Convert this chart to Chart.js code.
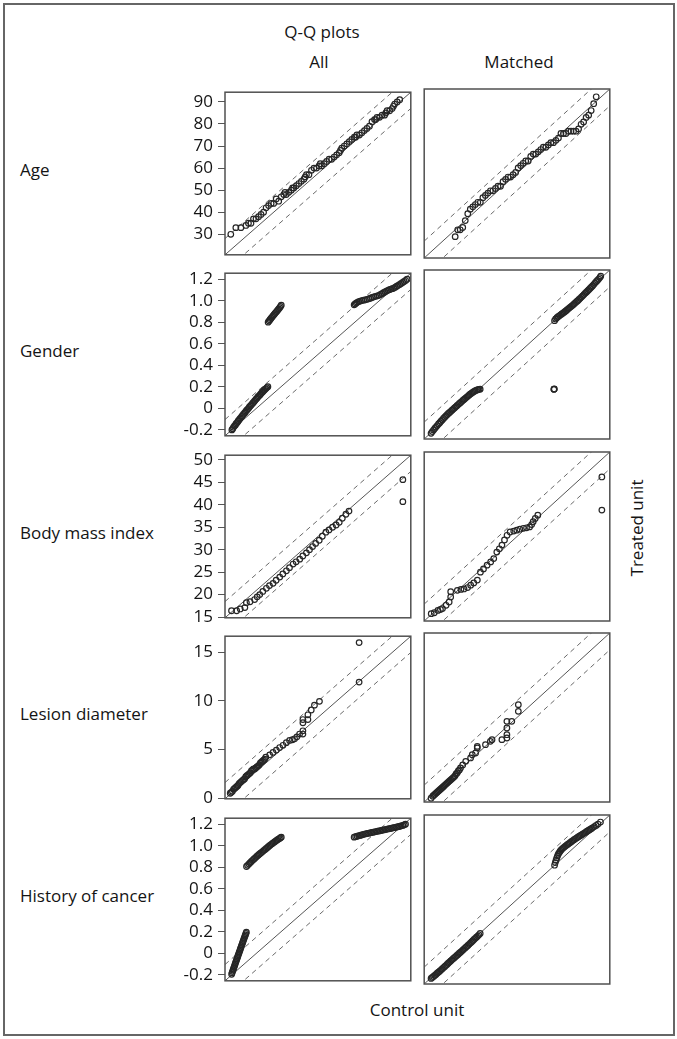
<!DOCTYPE html>
<html><head><meta charset="utf-8">
<script src="https://cdn.jsdelivr.net/npm/chart.js@4.4.1/dist/chart.umd.min.js"></script>
<style>
html,body{margin:0;padding:0;background:#fff;}
body{width:677px;height:1039px;position:relative;overflow:hidden;font-family:"Open Sans",sans-serif;color:#141414;}
#frame{position:absolute;left:3px;top:3px;width:668px;height:1029px;border:2px solid #666;}
.t{position:absolute;font-size:17px;line-height:20px;white-space:nowrap;transform:translate(-50%,-50%);}
.r{position:absolute;font-size:17px;line-height:20px;white-space:nowrap;transform:translate(0,-50%);}
canvas{position:absolute;}
</style></head><body>
<div id="frame"></div>
<div class="t" style="left:322px;top:32px">Q-Q plots</div>
<div class="t" style="left:319px;top:62px">All</div>
<div class="t" style="left:519px;top:62px">Matched</div>
<div class="t" style="left:417px;top:1010px">Control unit</div>
<div class="t" style="left:637px;top:528px;transform:translate(-50%,-50%) rotate(-90deg)">Treated unit</div>
<div id="labels"></div>
<script>
// ---------- data ----------
const rowNames = ['Age','Gender','Body mass index','Lesion diameter','History of cancer'];
const rowMin = [20.7, -0.256, 14.83, -0.07, -0.256];
const rowMax = [94.4, 1.256, 51.05, 16.65, 1.256];
const ageTicks = [30,40,50,60,70,80,90];
const binTicks = [-0.2,0,0.2,0.4,0.6,0.8,1.0,1.2];
const binTickLabels = ['-0.2','0','0.2','0.4','0.6','0.8','1.0','1.2'];
const bmiTicks = [15,20,25,30,35,40,45,50];
const lesionTicks = [0,5,10,15];

const ageAllControl = [23,25,27,29,30,31,32,33,34,35,36,37,38,39,40,41,42,43,44,44.5,45,46,47,47.5,48,49,50,51,52,52.5,53,54,55,56,57,58,58.5,59,60,61,62,63,64,65,66,66.5,67,68,69,70,71,72,72.5,73,74,75,76,77,78,79,80,80.5,81,82,83,84,84.5,85,86,87,87.5,88,89,90];
const ageAllTreated = [30,33,33,34,35,35,37,37,38,39,40,42,43,44,44,46,45,47,48,49,48,49,50,51,51,52,53,54,55,56,57,57,59,60,60,61,62,61,62,63,64,64,65,66,67,68,69,70,71,72,73,74,74,75,75,76,77,78,79,81,82,82,83,83,84,84,85,86,86,87,88,89,90,91];
const ageMatchedControl = [33,34,35,36,37,38,39,40,41,42,43,44,45,46,47,48,49,50,51,52,53,54,55,56,57,58,59,60,61,62,63,64,65,66,67,68,69,70,71,72,73,74,75,76,77,78,79,80,81,82,83,84,85,86,87,88,89];
const ageMatchedTreated = [30,33,33,34,37,40,42,43,44,45,45,47,48,49,50,50,51,52,52,54,55,56,56,57,58,60,61,62,63,63,65,66,66,67,68,69,69,70,71,71,72,73,75,75,75,76,76,76,76,77,79,80,82,83,85,88,91];

const genderAllControl = [-0.200,-0.193,-0.187,-0.180,-0.172,-0.166,-0.158,-0.151,-0.145,-0.137,-0.130,-0.121,-0.114,-0.107,-0.098,-0.091,-0.083,-0.075,-0.066,-0.059,-0.050,-0.043,-0.034,-0.027,-0.018,-0.011,-0.002,0.006,0.013,0.022,0.030,0.037,0.046,0.053,0.061,0.069,0.077,0.085,0.093,
 0.095,0.103,0.110,0.118,0.126,0.133,0.141,0.149,0.157,0.165,0.173,0.181,0.189,0.196,0.202,
 0.795,0.803,0.812,0.821,0.832,0.845,0.858,0.872,0.886,0.900,0.914,0.928,0.942,0.956,0.970,0.984,0.997,1.010,1.022,1.034,1.046,1.058,1.070,1.082,1.094,1.106,1.118,1.130,1.142,1.154,1.166,1.178,1.190,1.202,1.214,1.226];
const genderAllTreated = [-0.201,-0.190,-0.177,-0.166,-0.157,-0.144,-0.135,-0.122,-0.113,-0.101,-0.091,-0.079,-0.069,-0.056,-0.046,-0.036,-0.022,-0.013,-0.003,0.010,0.021,0.030,0.043,0.052,0.064,0.074,0.086,0.095,0.107,0.116,0.126,0.137,0.147,0.155,0.166,0.175,0.183,0.192,0.201,
 0.801,0.812,0.824,0.835,0.846,0.857,0.868,0.879,0.890,0.901,0.912,0.924,0.935,0.947,0.958,
 0.962,0.970,0.978,0.985,0.992,0.997,1.001,1.005,1.008,1.013,1.018,1.023,1.030,1.036,1.041,1.046,1.050,1.058,1.066,1.075,1.082,1.090,1.097,1.103,1.108,1.112,1.118,1.126,1.135,1.143,1.152,1.161,1.170,1.179,1.189,1.200];
const genderMatchedControl = [-0.200,-0.190,-0.180,-0.170,-0.160,-0.150,-0.139,-0.129,-0.119,-0.109,-0.099,-0.089,-0.079,-0.069,-0.059,-0.049,-0.039,-0.029,-0.019,-0.009,0.001,0.011,0.021,0.031,0.041,0.051,0.061,0.071,0.081,0.091,0.101,0.111,0.121,0.131,0.141,0.151,0.161,0.171,0.181,0.191,0.200,
 0.800,0.802,0.804,
 0.806,0.815,0.825,0.835,0.845,0.855,0.865,0.875,0.885,0.895,0.905,0.915,0.925,0.935,0.945,0.955,0.965,0.975,0.985,0.995,1.005,1.015,1.025,1.035,1.045,1.055,1.065,1.075,1.085,1.095,1.105,1.115,1.125,1.135,1.145,1.155,1.165,1.175,1.182];
const genderMatchedTreated = [-0.205,-0.190,-0.176,-0.162,-0.149,-0.136,-0.122,-0.110,-0.097,-0.085,-0.072,-0.061,-0.050,-0.039,-0.028,-0.018,-0.008,0.002,0.012,0.022,0.032,0.042,0.052,0.062,0.071,0.081,0.091,0.100,0.110,0.119,0.128,0.138,0.147,0.155,0.163,0.170,0.176,0.181,0.185,0.188,0.190,
 0.188,0.190,0.192,
 0.803,0.818,0.829,0.838,0.846,0.855,0.863,0.871,0.879,0.888,0.897,0.906,0.915,0.924,0.933,0.942,0.952,0.962,0.972,0.982,0.992,1.003,1.014,1.025,1.036,1.047,1.058,1.069,1.080,1.091,1.102,1.113,1.126,1.139,1.151,1.162,1.175,1.188,1.200];

const bmiAllControl = [16.1,17.1,17.8,18.7,19.0,19.7,20.6,21.1,21.6,22.2,22.9,23.5,24.2,24.8,25.5,26.1,26.8,27.4,28.1,28.7,29.4,30.0,30.7,31.3,31.9,32.5,33.2,33.8,34.5,35.1,35.8,36.5,37.1,37.7,38.4,39.0,49.5,49.5];
const bmiAllTreated = [16.4,16.4,16.8,17.1,18.2,18.4,18.9,19.5,20.0,20.7,21.4,22.0,22.5,23.2,23.9,24.6,25.3,26.0,26.8,27.3,27.9,28.6,29.3,30.0,30.7,31.4,32.1,33.0,33.9,34.4,35.0,35.5,36.1,37.0,37.9,38.6,40.7,45.6];
const bmiMatchedControl = [16.2,16.8,17.5,18.0,18.4,19.1,19.7,20.0,20.0,21.3,22.0,22.6,23.3,23.9,24.5,25.2,25.8,26.4,27.1,27.8,28.4,29.0,29.5,30.0,30.5,31.0,31.6,32.3,32.9,33.5,34.2,34.8,35.4,35.8,36.1,36.5,37.0,49.5,49.5];
const bmiMatchedTreated = [16.4,16.6,17.1,17.3,17.5,18.2,18.9,20.0,21.1,21.4,21.6,21.7,22.0,22.5,23.0,23.6,25.3,26.0,26.8,27.5,28.2,29.6,30.3,31.1,32.2,33.2,33.9,34.1,34.3,34.5,34.7,34.8,35.0,35.5,36.1,36.8,37.5,38.6,45.7];

const lesionAllControl = [0.4,0.5,0.6,0.7,0.8,0.9,1.0,1.1,1.2,1.3,1.4,1.5,1.6,1.7,1.8,1.9,2.0,2.1,2.2,2.3,2.4,2.5,2.6,2.7,2.8,2.9,3.0,3.1,3.2,3.3,3.4,3.5,3.6,3.95,4.25,4.55,4.85,5.15,5.45,5.74,6.0,6.19,6.4,6.64,6.94,6.94,6.94,6.94,7.39,7.39,7.69,7.98,8.43,12.0,12.0];
const lesionAllTreated = [0.5,0.6,0.7,0.9,1.0,1.1,1.2,1.3,1.5,1.6,1.7,1.8,1.9,2.0,2.2,2.3,2.4,2.5,2.6,2.8,2.9,3.0,3.0,3.1,3.2,3.3,3.4,3.6,3.7,3.8,3.9,4.0,4.2,4.45,4.7,4.94,5.2,5.43,5.7,5.93,6.0,6.1,6.3,6.59,6.59,6.92,7.75,8.08,8.08,8.57,9.06,9.56,9.95,11.93,15.99];
const lesionMatchedControl = [0.55,0.7,0.8,0.9,1.0,1.1,1.2,1.3,1.4,1.5,1.6,1.7,1.8,1.9,2.0,2.1,2.2,2.3,2.4,2.5,2.6,2.7,2.8,2.9,3.0,3.1,3.2,3.4,3.67,4.11,4.26,4.56,4.71,4.71,5.45,5.89,6.04,6.93,7.38,7.38,7.38,7.38,7.82,8.41,8.41];
const lesionMatchedTreated = [0.3,0.5,0.6,0.7,0.8,0.9,1.0,1.1,1.2,1.3,1.4,1.5,1.6,1.7,1.8,1.9,2.0,2.1,2.2,2.3,2.4,2.5,2.7,2.8,3.0,3.1,3.3,3.6,3.95,4.29,4.61,4.78,5.28,5.43,5.6,5.93,6.1,6.1,6.26,6.59,7.25,7.91,7.91,8.9,9.56];

const cancerAllControl = [-0.202,-0.198,-0.194,-0.190,-0.186,-0.182,-0.178,-0.174,-0.170,-0.166,-0.162,-0.158,-0.154,-0.150,-0.146,-0.142,-0.138,-0.134,-0.130,-0.126,-0.122,-0.118,-0.114,-0.110,-0.106,-0.102,-0.098,-0.094,-0.090,-0.086,-0.082,
 -0.081,-0.072,-0.062,-0.053,-0.043,-0.034,-0.024,-0.015,-0.005,0.004,0.014,0.023,0.033,0.042,0.052,0.061,0.071,0.080,0.090,0.099,0.109,0.118,0.128,0.137,0.147,0.156,0.166,0.175,0.185,0.194,0.202,
 0.795,0.807,0.819,0.831,0.843,0.855,0.867,0.879,0.891,0.903,0.915,0.927,0.939,0.951,0.963,0.975,0.987,0.999,1.011,1.023,1.035,1.047,1.059,1.071,1.083,1.095,1.107,1.119,1.131,1.143,1.155,1.167,1.179,1.191,1.203,1.213];
const cancerAllTreated = [-0.195,-0.181,-0.168,-0.155,-0.141,-0.128,-0.115,-0.101,-0.088,-0.075,-0.062,-0.049,-0.036,-0.023,-0.010,0.003,0.016,0.029,0.042,0.055,0.068,0.081,0.094,0.107,0.120,0.133,0.146,0.159,0.171,0.184,0.196,
 0.807,0.818,0.829,0.840,0.851,0.862,0.872,0.882,0.892,0.902,0.912,0.921,0.930,0.939,0.948,0.957,0.966,0.975,0.984,0.993,1.002,1.011,1.019,1.027,1.035,1.043,1.051,1.059,1.066,1.073,1.080,
 1.080,1.084,1.088,1.092,1.096,1.100,1.104,1.108,1.111,1.114,1.117,1.120,1.123,1.126,1.129,1.132,1.135,1.138,1.141,1.144,1.147,1.150,1.153,1.156,1.159,1.162,1.165,1.168,1.171,1.174,1.177,1.181,1.185,1.189,1.194,1.200];
const cancerMatchedControl = [-0.200,-0.190,-0.180,-0.170,-0.160,-0.150,-0.140,-0.130,-0.120,-0.110,-0.100,-0.090,-0.080,-0.070,-0.060,-0.050,-0.040,-0.030,-0.020,-0.010,0.000,0.010,0.020,0.030,0.040,0.050,0.060,0.070,0.080,0.090,0.100,0.110,0.120,0.130,0.140,0.150,0.160,0.170,0.180,0.190,0.200,
 0.806,0.812,0.818,0.824,0.830,0.836,0.843,0.850,0.858,0.866,0.875,0.885,0.895,0.905,0.915,0.925,0.935,0.945,0.955,0.965,0.975,0.985,0.995,1.005,1.015,1.025,1.035,1.045,1.055,1.065,1.075,1.085,1.095,1.105,1.115,1.130,1.145,1.160,1.180];
const cancerMatchedTreated = [-0.206,-0.197,-0.189,-0.180,-0.170,-0.160,-0.150,-0.141,-0.131,-0.121,-0.111,-0.101,-0.091,-0.081,-0.070,-0.060,-0.050,-0.040,-0.030,-0.021,-0.011,-0.001,0.009,0.019,0.029,0.039,0.049,0.059,0.069,0.079,0.089,0.099,0.110,0.120,0.131,0.142,0.153,0.163,0.173,0.184,0.196,
 0.807,0.830,0.852,0.872,0.890,0.905,0.918,0.930,0.941,0.951,0.960,0.969,0.978,0.987,0.995,1.003,1.011,1.019,1.027,1.035,1.043,1.050,1.057,1.064,1.071,1.078,1.085,1.092,1.099,1.106,1.113,1.120,1.127,1.134,1.141,1.152,1.163,1.175,1.193];

// ---------- layout ----------
const rowTicks = [ageTicks, binTicks, bmiTicks, lesionTicks, binTicks];
const rowTickLabels = [null, binTickLabels, null, null, binTickLabels];
const panels = [
  [ageAllControl, ageAllTreated, ageMatchedControl, ageMatchedTreated],
  [genderAllControl, genderAllTreated, genderMatchedControl, genderMatchedTreated],
  [bmiAllControl, bmiAllTreated, bmiMatchedControl, bmiMatchedTreated],
  [lesionAllControl, lesionAllTreated, lesionMatchedControl, lesionMatchedTreated],
  [cancerAllControl, cancerAllTreated, cancerMatchedControl, cancerMatchedTreated]
];
const ROW_TOP = [89, 270, 452, 633, 815];
const PANEL_H = 169;
const COL_LEFT = [225, 423];
const COL_W = [187, 188];
const AXIS_W = 72, PAD = 12;

const boxPlugin = {
  id: 'box',
  afterDraw(chart) {
    const {ctx, chartArea: a} = chart;
    ctx.save();
    ctx.strokeStyle = '#505050';
    ctx.lineWidth = 1.5;
    ctx.strokeRect(a.left, a.top, a.right - a.left, a.bottom - a.top);
    ctx.restore();
  }
};

const labelsDiv = document.getElementById('labels');
rowNames.forEach((n, r) => {
  const d = document.createElement('div');
  d.className = 'r';
  d.textContent = n;
  d.style.left = '20px';
  d.style.top = (ROW_TOP[r] + PANEL_H / 2 - 4) + 'px';
  labelsDiv.appendChild(d);
});

function makePanel(r, col) {
  const ctrl = panels[r][col * 2], trt = panels[r][col * 2 + 1];
  const mn = rowMin[r], mx = rowMax[r], off = (mx - mn) * 0.1;
  const left = col === 0;
  const cv = document.createElement('canvas');
  const w = (left ? AXIS_W : 4) + COL_W[col] + 4;
  const h = PANEL_H + 2 * PAD;
  cv.width = w; cv.height = h;
  cv.style.width = w + 'px'; cv.style.height = h + 'px';
  cv.style.left = (COL_LEFT[col] - (left ? AXIS_W : 4)) + 'px';
  cv.style.top = (ROW_TOP[r] - PAD) + 'px';
  document.body.appendChild(cv);
  const ticks = rowTicks[r], tl = rowTickLabels[r];
  const lineDs = (o, dash) => ({
    type: 'scatter', showLine: true, data: [{x: mn, y: mn + o}, {x: mx, y: mx + o}],
    borderColor: dash ? '#6a6a6a' : '#555', borderWidth: 1, borderDash: dash ? [5, 4] : [],
    pointRadius: 0, order: 2
  });
  const yScale = {
    type: 'linear', min: mn, max: mx, display: left,
    afterBuildTicks: s => { s.ticks = ticks.map(v => ({value: v})); },
    grid: {drawOnChartArea: false, drawTicks: true, tickLength: 7, color: '#555', lineWidth: 1},
    border: {display: false},
    ticks: {
      color: '#141414', padding: 5, font: {family: 'Open Sans', size: 17},
      callback: (v) => { const i = ticks.indexOf(v); return tl ? tl[i] : String(v); }
    }
  };
  if (left) yScale.afterFit = s => { s.width = AXIS_W; };
  new Chart(cv, {
    type: 'scatter',
    data: {
      datasets: [
        lineDs(0, false), lineDs(off, true), lineDs(-off, true),
        {
          data: ctrl.map((c, i) => ({x: c, y: trt[i]})),
          pointStyle: 'circle', pointRadius: 2.8, borderWidth: 1.2,
          borderColor: '#262626', backgroundColor: 'rgba(0,0,0,0)', order: 1
        }
      ]
    },
    options: {
      responsive: false, animation: false, devicePixelRatio: 1, events: [],
      layout: {padding: {left: left ? 0 : 4, right: 4, top: PAD, bottom: PAD}},
      plugins: {legend: {display: false}, tooltip: {enabled: false}},
      scales: {
        x: {type: 'linear', min: mn, max: mx, display: false},
        y: yScale
      }
    },
    plugins: [boxPlugin]
  });
}
for (let r = 0; r < 5; r++) { makePanel(r, 0); makePanel(r, 1); }
</script>
</body></html>
